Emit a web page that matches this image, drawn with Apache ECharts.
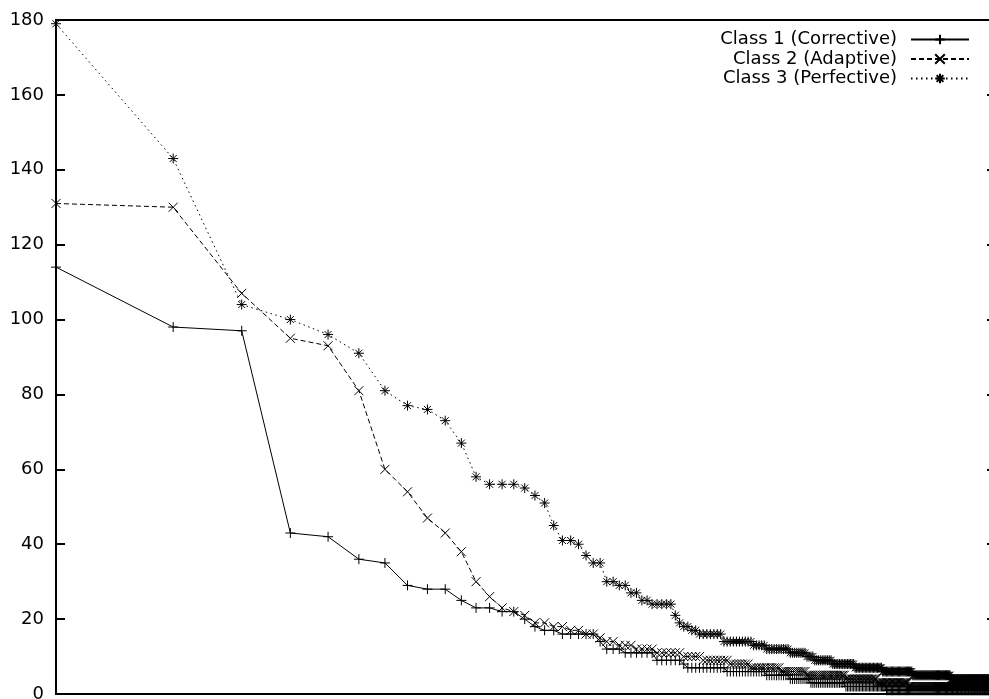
<!DOCTYPE html>
<html><head><meta charset="utf-8">
<script src="https://cdn.jsdelivr.net/npm/echarts@6/dist/echarts.min.js"></script>
<style>html,body{margin:0;padding:0;background:#fff}#c{width:989px;height:699px}</style>
</head><body><div id="c"></div>
<script>
const seriesNames = ['Class 1 (Corrective)', 'Class 2 (Adaptive)', 'Class 3 (Perfective)'];
const yTickValues = [0, 20, 40, 60, 80, 100, 120, 140, 160, 180];

const class1 = [
114, 98, 97, 43, 42, 36, 35, 29, 28, 28,
25, 23, 23, 22, 22, 20, 18, 17, 17, 16,
16, 16, 16, 16, 14, 12, 12, 12, 11, 11,
11, 11, 11, 11, 9, 9, 9, 9, 9, 9,
8, 7, 7, 7, 7, 7, 7, 7, 7, 7,
7, 7, 6, 6, 6, 6, 6, 6, 6, 6,
6, 6, 6, 6, 6, 6, 5, 5, 5, 5,
5, 5, 5, 5, 5, 5, 4, 4, 4, 4,
4, 4, 4, 4, 4, 4, 3, 3, 3, 3,
3, 3, 3, 3, 3, 3, 3, 3, 3, 3,
3, 3, 3, 3, 3, 3, 2, 2, 2, 2,
2, 2, 2, 2, 2, 2, 2, 2, 2, 2,
2, 2, 2, 2, 2, 2, 2, 2, 2, 2,
2, 2, 2, 2, 2, 1, 1, 1, 1, 1,
1, 1, 1, 1, 1, 1, 1, 1, 1, 1,
1, 1, 1, 1, 1, 1, 1, 1, 1, 1,
1, 1, 1, 1, 1, 1, 1, 1, 1, 1,
1, 1, 1, 1, 1, 1, 1, 1, 1, 1,
1, 1, 1, 1, 1, 1, 1, 1, 1, 1,
1, 1, 1, 1, 1, 1, 1, 1, 1, 1,
1, 1, 1, 1, 1, 1, 1, 1, 1, 1,
1, 1, 1, 1, 1, 1, 1, 1, 1, 1,
1, 1, 1, 1, 1, 1, 1, 1, 1, 1,
1, 1, 1, 1, 1, 1, 1, 1, 1, 1,
1, 1, 1, 1, 1, 1, 1, 1, 1, 1
];

const class2 = [
131, 130, 107, 95, 93, 81, 60, 54, 47, 43,
38, 30, 26, 23, 22, 21, 19, 19, 18, 18,
17, 17, 16, 16, 15, 14, 14, 13, 13, 13,
12, 12, 12, 12, 11, 11, 11, 11, 11, 11,
10, 10, 10, 10, 10, 9, 9, 9, 9, 9,
9, 9, 9, 8, 8, 8, 8, 8, 8, 8,
7, 7, 7, 7, 7, 7, 7, 7, 7, 7,
7, 7, 6, 6, 6, 6, 6, 6, 6, 6,
6, 6, 6, 6, 5, 5, 5, 5, 5, 5,
5, 5, 5, 5, 5, 5, 5, 5, 5, 5,
5, 5, 5, 5, 5, 5, 4, 4, 4, 4,
4, 4, 4, 4, 4, 4, 4, 4, 4, 4,
4, 4, 4, 4, 4, 4, 4, 4, 3, 3,
3, 3, 3, 3, 3, 3, 3, 3, 3, 3,
3, 3, 3, 3, 3, 3, 3, 3, 3, 3,
3, 3, 3, 3, 2, 2, 2, 2, 2, 2,
2, 2, 2, 2, 2, 2, 2, 2, 2, 2,
2, 2, 2, 2, 2, 2, 2, 2, 2, 2,
2, 2, 2, 2, 2, 2, 2, 2, 2, 2,
2, 2, 2, 2, 2, 2, 2, 2, 2, 2,
2, 2, 2, 2, 2, 2, 2, 2, 2, 2,
2, 2, 2, 2, 2, 2, 2, 2, 2, 2,
2, 2, 2, 2, 2, 2, 2, 2, 2, 2,
2, 2, 2, 2, 2, 2, 2, 2, 2, 2,
2, 2, 2, 2, 2, 2, 2, 2, 2, 2
];

const class3 = [
179, 143, 104, 100, 96, 91, 81, 77, 76, 73,
67, 58, 56, 56, 56, 55, 53, 51, 45, 41,
41, 40, 37, 35, 35, 30, 30, 29, 29, 27,
27, 25, 25, 24, 24, 24, 24, 24, 21, 19,
18, 18, 17, 17, 16, 16, 16, 16, 16, 16,
16, 14, 14, 14, 14, 14, 14, 14, 14, 14,
14, 13, 13, 13, 13, 13, 12, 12, 12, 12,
12, 12, 12, 12, 12, 12, 11, 11, 11, 11,
11, 11, 11, 11, 10, 10, 10, 10, 9, 9,
9, 9, 9, 9, 9, 9, 9, 9, 8, 8,
8, 8, 8, 8, 8, 8, 8, 8, 8, 8,
8, 8, 7, 7, 7, 7, 7, 7, 7, 7,
7, 7, 7, 7, 7, 7, 7, 7, 7, 7,
7, 7, 6, 6, 6, 6, 6, 6, 6, 6,
6, 6, 6, 6, 6, 6, 6, 6, 6, 6,
6, 6, 6, 6, 6, 6, 6, 6, 5, 5,
5, 5, 5, 5, 5, 5, 5, 5, 5, 5,
5, 5, 5, 5, 5, 5, 5, 5, 5, 5,
5, 5, 5, 5, 5, 5, 5, 5, 5, 5,
5, 5, 5, 5, 5, 5, 5, 5, 4, 4,
4, 4, 4, 4, 4, 4, 4, 4, 4, 4,
4, 4, 4, 4, 4, 4, 4, 4, 4, 4,
4, 4, 4, 4, 4, 4, 4, 4, 4, 4,
4, 4, 4, 4, 4, 4, 4, 4, 4, 4,
4, 4, 4, 4, 4, 4, 4, 4, 4, 4
];

const FONT = 'DejaVu Sans';
const PLUS = 'path://M0,5L10,5M5,0L5,10';
const CROSS = 'path://M0,0L10,10M10,0L0,10';
const STAR = 'path://M0,5L10,5M5,0L5,10M1.5,1.5L8.5,8.5M8.5,1.5L1.5,8.5';

function toPoints(arr) { return arr.map((v, i) => [i + 1, v]); }

function mkSeries(name, data, symbol, dash, size) {
  return {
    name: name,
    type: 'line',
    data: toPoints(data),
    symbol: symbol,
    symbolSize: size,
    showAllSymbol: true,
    itemStyle: { color: 'transparent', borderColor: '#000', borderWidth: 1 },
    lineStyle: { color: '#000', width: 1, type: dash },
    emphasis: { disabled: true },
    z: 3
  };
}

const chart = echarts.init(document.getElementById('c'), null, { renderer: 'canvas' });
chart.setOption({
  animation: false,
  backgroundColor: '#fff',
  grid: { left: 56, right: -7, top: 20, bottom: 5, outerBoundsMode: 'none', containLabel: false,
    show: true, borderColor: '#000', borderWidth: 2, backgroundColor: 'transparent' },
  xAxis: {
    type: 'log', logBase: 10, min: 1, max: 260,
    axisLine: { show: false }, axisTick: { show: false }, axisLabel: { show: false }, splitLine: { show: false }
  },
  yAxis: [
    {
      type: 'value', min: 0, max: 180, interval: 20, position: 'left',
      axisLine: { show: false },
      axisTick: { show: true, inside: true, length: 9, lineStyle: { color: '#000', width: 2 } },
      axisLabel: { fontSize: 18, fontFamily: FONT, color: '#000', margin: 12,
        formatter: v => (yTickValues.indexOf(v) >= 0 ? String(v) : '') },
      splitLine: { show: false }
    },
    {
      type: 'value', min: 0, max: 180, interval: 20, position: 'right',
      axisLine: { show: false },
      axisTick: { show: true, inside: true, length: 9, lineStyle: { color: '#000', width: 2 } },
      axisLabel: { show: false },
      splitLine: { show: false }
    }
  ],
  legend: {
    orient: 'vertical', right: 19, top: 30, padding: 0, itemGap: 0.5,
    align: 'right', itemWidth: 58, itemHeight: 12,
    data: seriesNames,
    textStyle: { fontSize: 18, fontFamily: FONT, color: '#000', lineHeight: 19, padding: [0, 9, 0, 0] }
  },
  series: [
    mkSeries(seriesNames[0], class1, PLUS, 'solid', 10),
    mkSeries(seriesNames[1], class2, CROSS, [5, 3], 9),
    mkSeries(seriesNames[2], class3, STAR, [1.5, 3.5], 10)
  ]
});
</script></body></html>
